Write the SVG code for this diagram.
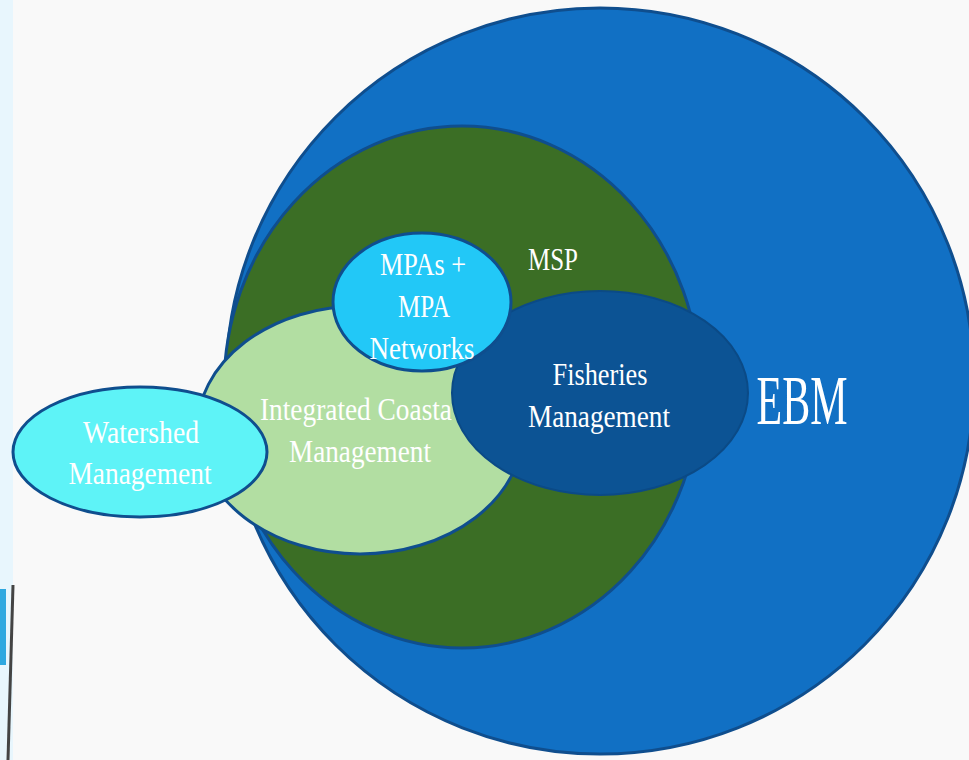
<svg xmlns="http://www.w3.org/2000/svg" width="969" height="760" viewBox="0 0 969 760">
<style>
.lbl{font-family:"Liberation Serif","DejaVu Serif",serif;fill:#ffffff;text-anchor:middle}
.e{stroke:#0f4e8e;stroke-width:3}
</style>
<rect x="0" y="0" width="969" height="760" fill="#f9f9f9"/>
<rect x="0" y="0" width="13" height="760" fill="#e8f6fd"/>
<rect x="0" y="589" width="6" height="76" fill="#2ea8e0"/>
<path d="M13 585 L8 760" stroke="#444" stroke-width="3" fill="none"/>
<g id="ebm">
<ellipse class="e" cx="600" cy="381" rx="374" ry="373" fill="#1170c4"/>
<text class="lbl" x="802" y="424" font-size="70" textLength="91" lengthAdjust="spacingAndGlyphs">EBM</text>
</g>
<g id="msp">
<ellipse class="e" cx="462" cy="387" rx="238" ry="261" fill="#3b6e25"/>
<text class="lbl" x="553" y="270" font-size="31" textLength="50" lengthAdjust="spacingAndGlyphs">MSP</text>
</g>
<g id="icm">
<ellipse class="e" cx="360" cy="430" rx="163" ry="124" fill="#b2dea2"/>
<text class="lbl" x="356" y="420" font-size="32" textLength="192" lengthAdjust="spacingAndGlyphs">Integrated Coasta</text>
<text class="lbl" x="360" y="462" font-size="32" textLength="142" lengthAdjust="spacingAndGlyphs">Management</text>
</g>
<g id="watershed">
<ellipse class="e" cx="140" cy="452" rx="127" ry="65" fill="#5ef3f7"/>
<text class="lbl" x="141" y="443" font-size="32" textLength="116" lengthAdjust="spacingAndGlyphs">Watershed</text>
<text class="lbl" x="140" y="484" font-size="32" textLength="143" lengthAdjust="spacingAndGlyphs">Management</text>
</g>
<g id="fisheries">
<ellipse cx="600" cy="393" rx="148" ry="102" fill="#0c5394" stroke="#0b4a86" stroke-width="2"/>
<text class="lbl" x="600" y="385" font-size="32" textLength="95" lengthAdjust="spacingAndGlyphs">Fisheries</text>
<text class="lbl" x="599" y="427" font-size="32" textLength="142" lengthAdjust="spacingAndGlyphs">Management</text>
</g>
<g id="mpa">
<ellipse class="e" cx="422" cy="302" rx="89" ry="69" fill="#22c8f7"/>
<text class="lbl" x="423" y="275" font-size="32" textLength="86" lengthAdjust="spacingAndGlyphs">MPAs +</text>
<text class="lbl" x="424" y="317" font-size="32" textLength="52" lengthAdjust="spacingAndGlyphs">MPA</text>
<text class="lbl" x="422" y="359" font-size="32" textLength="105" lengthAdjust="spacingAndGlyphs">Networks</text>
</g>
<g id="connectors"></g>
</svg>
